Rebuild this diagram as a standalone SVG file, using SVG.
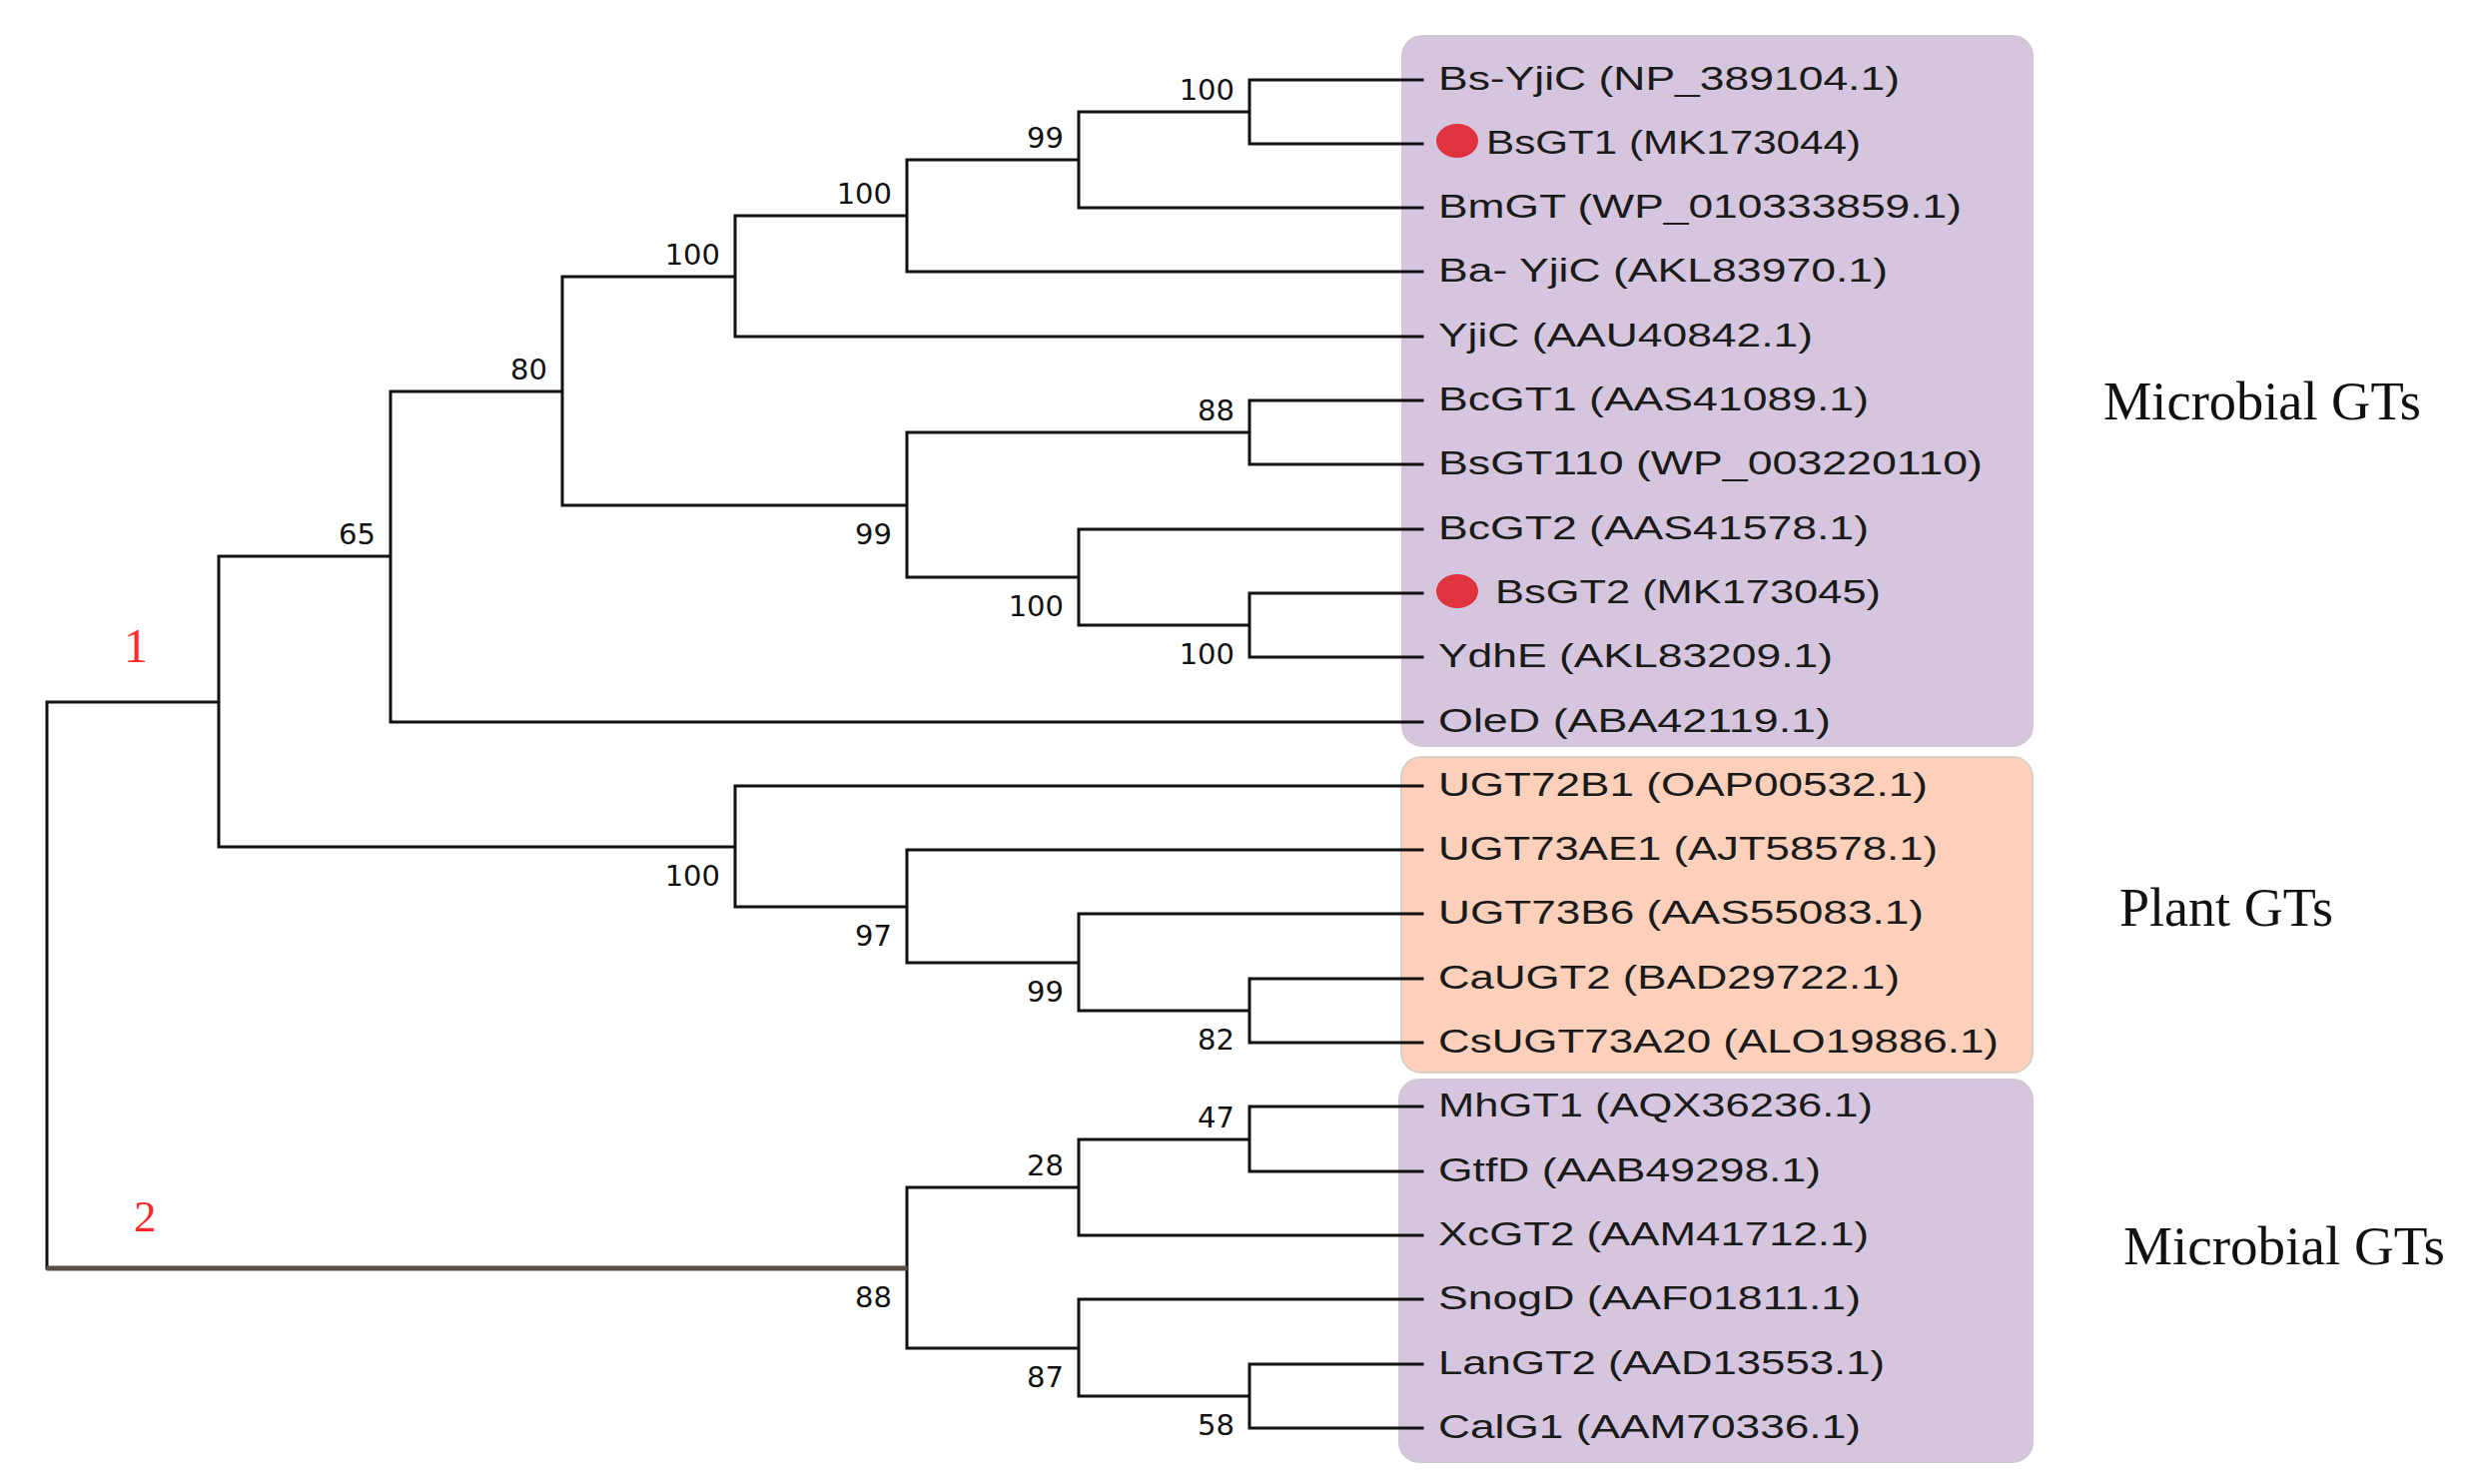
<svg xmlns="http://www.w3.org/2000/svg" width="2471" height="1486" viewBox="0 0 2471 1486">
<style>
.bg{fill:#ffffff}
.boxm{fill:#d6c5de;stroke:#cfc8d2;stroke-width:2}
.boxp{fill:#fdd0bb;stroke:#d9cfca;stroke-width:2}
.lf{font-family:"Liberation Sans",Arial,sans-serif;font-size:33px;fill:#1a1a1a}
.bs{font-family:"DejaVu Sans",Tahoma,sans-serif;font-size:29px;fill:#111;text-anchor:end}
.grp{font-family:"Liberation Serif","Times New Roman",serif;font-size:54px;fill:#111}
.cl{font-family:"Liberation Serif","Times New Roman",serif;fill:#ff2a2a}
.dot{fill:#e03340}
.br{fill:none;stroke:#111;stroke-width:3;stroke-linecap:square}
.br2{fill:none;stroke:#5a4d46;stroke-width:5;stroke-linecap:square}
</style>
<rect class="bg" x="0" y="0" width="2471" height="1486"/>

<g id="clade-boxes">
<rect id="box-microbial-1" class="boxm" x="1404" y="36" width="631" height="711" rx="20"/>
<rect id="box-plant" class="boxp" x="1403" y="758" width="632" height="316" rx="20"/>
<rect id="box-microbial-2" class="boxm" x="1401" y="1081" width="634" height="383" rx="20"/>
</g>

<g id="connectors">
<path class="br" d="M47 703V1270M47 703H219
M219 557V848M219 557H391M219 848H736
M391 392V723M391 392H563M391 723H1424
M563 277V506M563 277H736M563 506H908
M736 216V337M736 216H908M736 337H1424
M908 160V272M908 160H1080M908 272H1424
M1080 112V208M1080 112H1251M1080 208H1424
M1251 80V144M1251 80H1424M1251 144H1424
M908 433V578M908 433H1251M908 578H1080
M1251 401V465M1251 401H1424M1251 465H1424
M1080 530V626M1080 530H1424M1080 626H1251
M1251 594V658M1251 594H1424M1251 658H1424
M736 787V908M736 787H1424M736 908H908
M908 851V964M908 851H1424M908 964H1080
M1080 915V1012M1080 915H1424M1080 1012H1251
M1251 980V1044M1251 980H1424M1251 1044H1424
M908 1189V1350M908 1189H1080M908 1350H1080
M1080 1141V1237M1080 1141H1251M1080 1237H1424
M1251 1108V1173M1251 1108H1424M1251 1173H1424
M1080 1301V1398M1080 1301H1424M1080 1398H1251
M1251 1366V1430M1251 1366H1424M1251 1430H1424"/>
<path class="br2" d="M49 1270H906"/>
</g>

<g id="internal-nodes">
<g id="node-A"><text class="bs" x="1236" y="100">100</text></g>
<g id="node-B"><text class="bs" x="1065" y="148">99</text></g>
<g id="node-C"><text class="bs" x="893" y="204">100</text></g>
<g id="node-D"><text class="bs" x="721" y="265">100</text></g>
<g id="node-I"><text class="bs" x="548" y="380">80</text></g>
<g id="node-J"><text class="bs" x="376" y="545">65</text></g>
<g id="node-E"><text class="bs" x="1236" y="421">88</text></g>
<g id="node-H"><text class="bs" x="893" y="545">99</text></g>
<g id="node-G"><text class="bs" x="1065" y="617">100</text></g>
<g id="node-F"><text class="bs" x="1236" y="665">100</text></g>
<g id="node-N"><text class="bs" x="721" y="887">100</text></g>
<g id="node-M"><text class="bs" x="893" y="947">97</text></g>
<g id="node-L"><text class="bs" x="1065" y="1003">99</text></g>
<g id="node-K"><text class="bs" x="1236" y="1051">82</text></g>
<g id="node-P"><text class="bs" x="1236" y="1129">47</text></g>
<g id="node-Q"><text class="bs" x="1065" y="1177">28</text></g>
<g id="node-T"><text class="bs" x="893" y="1309">88</text></g>
<g id="node-S"><text class="bs" x="1065" y="1389">87</text></g>
<g id="node-R"><text class="bs" x="1236" y="1437">58</text></g>
<g id="node-O"><text class="cl" x="124" y="663" font-size="48">1</text></g>
<g id="node-root2"><text class="cl" x="134" y="1233" font-size="45">2</text></g>
</g>

<g id="leaves">
<g id="leaf-Bs-YjiC"><text class="lf" x="1440" y="90" textLength="462" lengthAdjust="spacingAndGlyphs">Bs-YjiC (NP_389104.1)</text></g>
<g id="leaf-BsGT1"><ellipse class="dot" cx="1459" cy="141" rx="21" ry="17"/><text class="lf" x="1488" y="154" textLength="375" lengthAdjust="spacingAndGlyphs">BsGT1 (MK173044)</text></g>
<g id="leaf-BmGT"><text class="lf" x="1440" y="218" textLength="524" lengthAdjust="spacingAndGlyphs">BmGT (WP_010333859.1)</text></g>
<g id="leaf-Ba-YjiC"><text class="lf" x="1440" y="282" textLength="450" lengthAdjust="spacingAndGlyphs">Ba- YjiC (AKL83970.1)</text></g>
<g id="leaf-YjiC"><text class="lf" x="1440" y="347" textLength="375" lengthAdjust="spacingAndGlyphs">YjiC (AAU40842.1)</text></g>
<g id="leaf-BcGT1"><text class="lf" x="1440" y="411" textLength="431" lengthAdjust="spacingAndGlyphs">BcGT1 (AAS41089.1)</text></g>
<g id="leaf-BsGT110"><text class="lf" x="1440" y="475" textLength="545" lengthAdjust="spacingAndGlyphs">BsGT110 (WP_003220110)</text></g>
<g id="leaf-BcGT2"><text class="lf" x="1440" y="540" textLength="431" lengthAdjust="spacingAndGlyphs">BcGT2 (AAS41578.1)</text></g>
<g id="leaf-BsGT2"><ellipse class="dot" cx="1459" cy="592" rx="21" ry="17"/><text class="lf" x="1497" y="604" textLength="386" lengthAdjust="spacingAndGlyphs">BsGT2 (MK173045)</text></g>
<g id="leaf-YdhE"><text class="lf" x="1440" y="668" textLength="395" lengthAdjust="spacingAndGlyphs">YdhE (AKL83209.1)</text></g>
<g id="leaf-OleD"><text class="lf" x="1440" y="733" textLength="393" lengthAdjust="spacingAndGlyphs">OleD (ABA42119.1)</text></g>
<g id="leaf-UGT72B1"><text class="lf" x="1440" y="797" textLength="490" lengthAdjust="spacingAndGlyphs">UGT72B1 (OAP00532.1)</text></g>
<g id="leaf-UGT73AE1"><text class="lf" x="1440" y="861" textLength="500" lengthAdjust="spacingAndGlyphs">UGT73AE1 (AJT58578.1)</text></g>
<g id="leaf-UGT73B6"><text class="lf" x="1440" y="925" textLength="486" lengthAdjust="spacingAndGlyphs">UGT73B6 (AAS55083.1)</text></g>
<g id="leaf-CaUGT2"><text class="lf" x="1440" y="990" textLength="462" lengthAdjust="spacingAndGlyphs">CaUGT2 (BAD29722.1)</text></g>
<g id="leaf-CsUGT73A20"><text class="lf" x="1440" y="1054" textLength="561" lengthAdjust="spacingAndGlyphs">CsUGT73A20 (ALO19886.1)</text></g>
<g id="leaf-MhGT1"><text class="lf" x="1440" y="1118" textLength="435" lengthAdjust="spacingAndGlyphs">MhGT1 (AQX36236.1)</text></g>
<g id="leaf-GtfD"><text class="lf" x="1440" y="1183" textLength="383" lengthAdjust="spacingAndGlyphs">GtfD (AAB49298.1)</text></g>
<g id="leaf-XcGT2"><text class="lf" x="1440" y="1247" textLength="431" lengthAdjust="spacingAndGlyphs">XcGT2 (AAM41712.1)</text></g>
<g id="leaf-SnogD"><text class="lf" x="1440" y="1311" textLength="423" lengthAdjust="spacingAndGlyphs">SnogD (AAF01811.1)</text></g>
<g id="leaf-LanGT2"><text class="lf" x="1440" y="1376" textLength="447" lengthAdjust="spacingAndGlyphs">LanGT2 (AAD13553.1)</text></g>
<g id="leaf-CalG1"><text class="lf" x="1440" y="1440" textLength="423" lengthAdjust="spacingAndGlyphs">CalG1 (AAM70336.1)</text></g>
</g>

<g id="group-labels">
<g id="label-microbial-1"><text class="grp" x="2106" y="420" textLength="318" lengthAdjust="spacingAndGlyphs">Microbial GTs</text></g>
<g id="label-plant"><text class="grp" x="2122" y="927" textLength="214" lengthAdjust="spacingAndGlyphs">Plant GTs</text></g>
<g id="label-microbial-2"><text class="grp" x="2126" y="1266" textLength="322" lengthAdjust="spacingAndGlyphs">Microbial GTs</text></g>
</g>
</svg>
